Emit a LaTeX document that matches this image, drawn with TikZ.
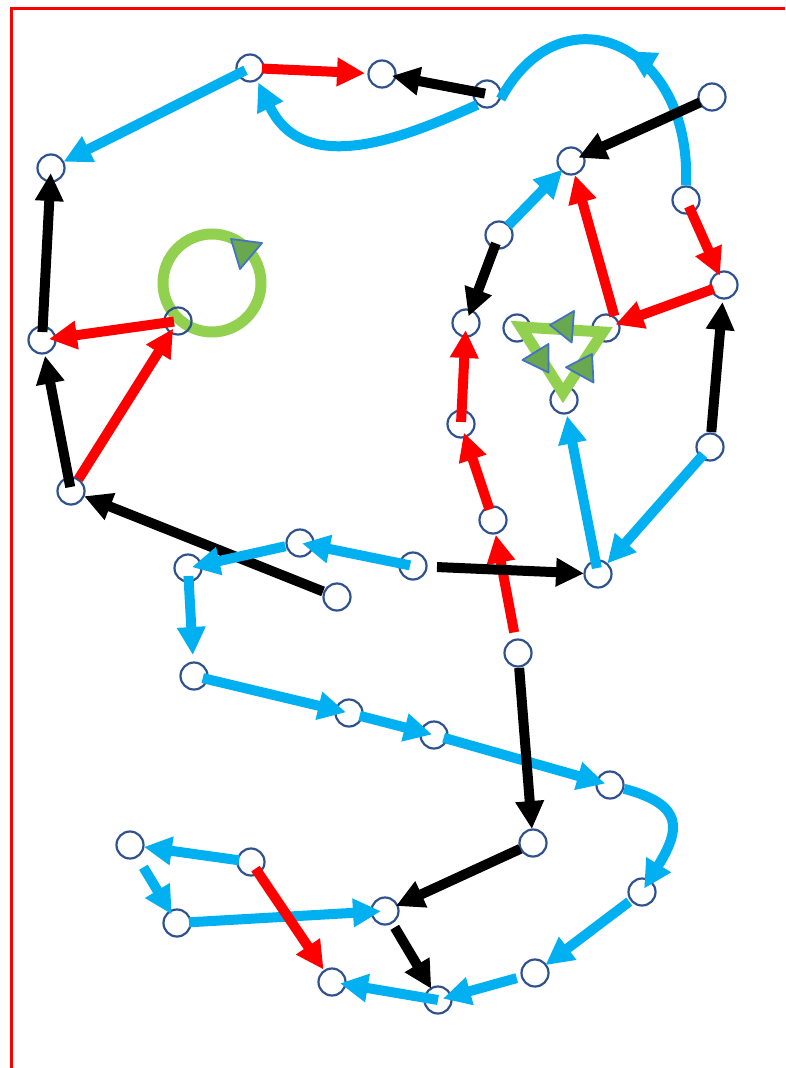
\documentclass[tikz,border=0pt]{standalone}
\usetikzlibrary{arrows.meta,decorations.markings}
\definecolor{cyanc}{HTML}{00B0F0}
\definecolor{ringg}{HTML}{92D050}
\definecolor{markg}{HTML}{6AA84F}
\definecolor{markb}{HTML}{4472C4}
\definecolor{nodeb}{HTML}{2F528F}
\tikzset{
  pt/.style={circle, draw=nodeb, line width=2.2pt, minimum size=27pt, inner sep=0pt},
  con/.style={line width=10pt, -{Triangle[length=28pt,width=27pt]}},
  cy/.style={con, draw=cyanc},
  rd/.style={con, draw=red},
  bk/.style={con, draw=black},
  marker/.style={fill=markg, draw=markb, line width=1.8pt, line join=round},
  greenline/.style={draw=ringg, line width=11pt}
}
\newcommand\linkarrow[5]{\draw[#1, shorten <=#4pt, shorten >=#5pt] (#2.center) -- (#3.center);}
\begin{document}
\begin{tikzpicture}[x=1pt,y=-1pt]
\useasboundingbox (0,0) rectangle (785,1068);
\fill[white] (0,0) rectangle (785,1068);
\draw[red, line width=3pt] (11,1068) -- (11,8) -- (785,8);

% green ring
\draw[greenline] (212,283) circle (49);
\draw[marker] (231,239) -- (262,243) -- (240,269) -- cycle;

% nodes
\node[pt] (A) at (250,68) {};
\node[pt] (B) at (382,74) {};
\node[pt] (C) at (487,94) {};
\node[pt] (D) at (712,97) {};
\node[pt] (E) at (571,161) {};
\node[pt] (F) at (686,200) {};
\node[pt] (G) at (499,235) {};
\node[pt] (H) at (724,285) {};
\node[pt] (Lf) at (51,168) {};
\node[pt] (I) at (466,323) {};
\node[pt] (J) at (517,328) {};
\node[pt] (K) at (606,328) {};
\node[pt] (Lc) at (564,400) {};
\node[pt] (M) at (461,424) {};
\node[pt] (N) at (710,447) {};
\node[pt] (O) at (493,520) {};
\node[pt] (P) at (598,574) {};
\node[pt] (Q) at (42,340) {};
\node[pt] (R) at (178,321) {};
\node[pt] (S) at (71,491) {};
\node[pt] (U) at (337,597) {};
\node[pt] (V) at (413,566) {};
\node[pt] (W) at (300,543) {};
\node[pt] (X) at (188,568) {};
\node[pt] (Y) at (518,653) {};
\node[pt] (Z) at (194,676) {};
\node[pt] (AA) at (349,713) {};
\node[pt] (AB) at (434,735) {};
\node[pt] (AC) at (610,785) {};
\node[pt] (AD) at (533,843) {};
\node[pt] (AE) at (642,892) {};
\node[pt] (AF) at (385,911) {};
\node[pt] (AG) at (130,845) {};
\node[pt] (AH) at (251,862) {};
\node[pt] (AI) at (177,923) {};
\node[pt] (AJ) at (332,982) {};
\node[pt] (AK) at (438,1000) {};
\node[pt] (AL) at (535,973) {};

% top connectors
\linkarrow{cy}{A}{Lf}{5}{14}
\linkarrow{rd}{A}{B}{12}{17}
\linkarrow{bk}{C}{B}{2}{10}
\draw[cy, shorten >=2pt] (C.228) .. controls (410,135) and (305,180) .. (A.-60);
\draw[cyanc, line width=10pt, postaction={decorate},
  decoration={markings, mark=at position 0.5 with {\arrow{Triangle[length=28pt,width=27pt]}}}]
  (F.90) .. controls (692,40) and (560,-12) .. (C.-20);
\linkarrow{bk}{D}{E}{13}{8}
\linkarrow{cy}{G}{E}{13}{12}
\draw[rd] (K.55) -- (E);
\linkarrow{rd}{F}{H}{7}{10}
\linkarrow{rd}{H}{K}{11}{10}
\linkarrow{bk}{N}{H}{15}{17}
\linkarrow{bk}{G}{I}{9}{7}
\linkarrow{rd}{M}{I}{2}{7}
\linkarrow{rd}{O}{M}{11}{9}
\linkarrow{rd}{Y}{O}{21}{15}
\linkarrow{cy}{N}{P}{10}{14}
\linkarrow{cy}{P}{Lc}{6}{16}
\linkarrow{bk}{V}{P}{24}{14}

% left connectors
\linkarrow{bk}{U}{S}{15}{14}
\linkarrow{bk}{S}{Q}{4}{16}
\linkarrow{rd}{S}{R}{14}{9}
\linkarrow{rd}{R}{Q}{4}{7}
\linkarrow{bk}{Q}{Lf}{8}{5}

% middle connectors
\linkarrow{cy}{V}{W}{3}{2}
\linkarrow{cy}{W}{X}{15}{4}
\linkarrow{cy}{X}{Z}{8}{21}
\linkarrow{cy}{Z}{AA}{9}{3}
\linkarrow{cy}{AA}{AB}{11}{2}
\linkarrow{cy}{AB}{AC}{10}{5}
\linkarrow{bk}{Y}{AD}{15}{14}

% bottom connectors
\draw[cy, shorten >=4pt] (AC.-15) .. controls (685,805) and (680,830) .. (AE.center);
\linkarrow{cy}{AE}{AL}{16}{13}
\linkarrow{cy}{AL}{AK}{19}{5}
\linkarrow{cy}{AK}{AJ}{0}{8}
\linkarrow{bk}{AF}{AK}{19}{13}
\linkarrow{bk}{AD}{AF}{14}{12}
\linkarrow{cy}{AI}{AF}{12}{4}
\linkarrow{cy}{AH}{AG}{12}{14}
\linkarrow{cy}{AG}{AI}{26}{10}
\linkarrow{rd}{AH}{AJ}{8}{15}

% green triangle
\draw[greenline, line join=miter] (521,327) -- (603,332) -- (563,393) -- cycle;
\draw[marker] (574,311) -- (571.7,342.5) -- (550,325) -- cycle;
\draw[marker] (548.5,344) -- (548.5,372.5) -- (522.5,360) -- cycle;
\draw[marker] (592,354) -- (593.5,382.5) -- (566,367.3) -- cycle;
\end{tikzpicture}
\end{document}
